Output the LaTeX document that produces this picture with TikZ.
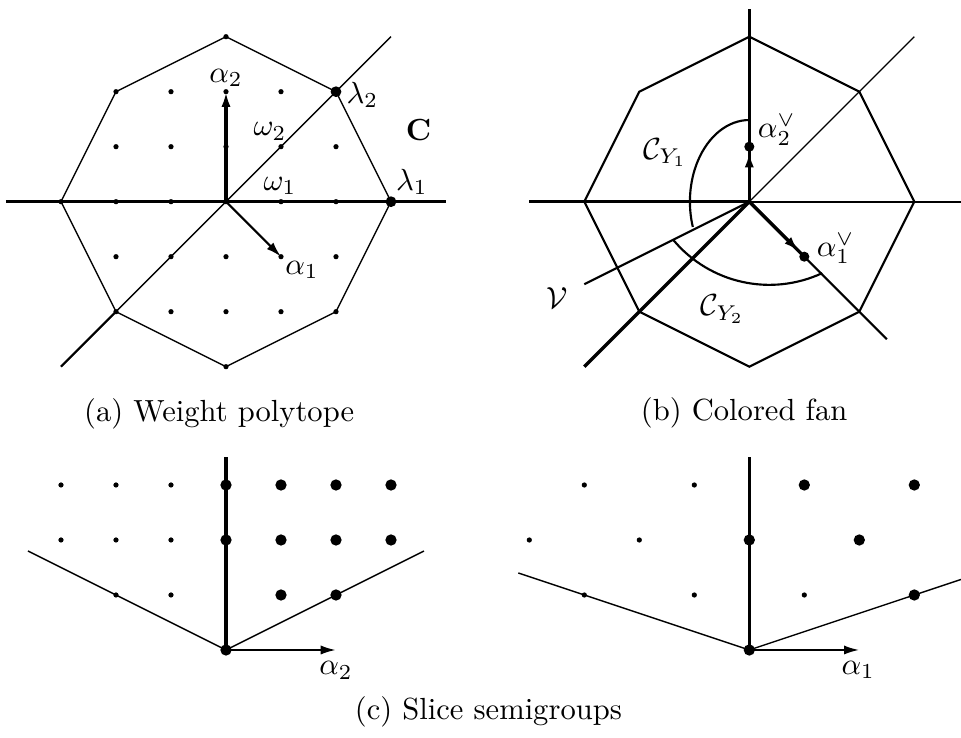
\documentclass[tikz,border=0pt]{standalone}
\usetikzlibrary{arrows.meta}
\begin{document}
\begin{tikzpicture}[x=0.6325cm,y=0.6325cm,
  thinline/.style={line width=0.45pt},
  medline/.style={line width=0.7pt},
  thickline/.style={line width=1.05pt},
  vec/.style={-{Latex[length=5pt,width=3pt]}}]
\useasboundingbox (0,0) rectangle (17.473,13.418);

\begin{scope}[shift={(4.109,9.751)}]
\coordinate (aO) at (0,0);
\draw[thinline] (3,0) -- (2,2) -- (0,3) -- (-2,2) -- (-3,0) -- (-2,-2) -- (0,-3) -- (2,-2) -- cycle;
\draw[thickline] (-4,0) -- (4,0);
\draw[thinline] (-3,-3) -- (3,3);
\draw[medline] (-3,-3) -- (-2,-2);
\foreach \x in {-2,...,2}
  \foreach \y in {-2,-1,1,2}
    \fill (\x,\y) circle (0.03cm);
\foreach \x in {-3,...,2}
  \fill (\x,0) circle (0.03cm);
\fill (0,3) circle (0.03cm);
\fill (0,-3) circle (0.03cm);
\coordinate (lamone) at (3,0);
\coordinate (lamtwo) at (2,2);
\fill (lamone) circle (0.062cm);
\fill (lamtwo) circle (0.062cm);
\draw[thickline,vec] (aO) -- (0,2);
\draw[medline,vec] (aO) -- (1,-1);
\node (alphatwo) at (0,2.25) {$\alpha_2$};
\node (alphaone) at (1.38,-1.24) {$\alpha_1$};
\node (lamtwolab) at (2.48,1.94) {$\lambda_2$};
\node (lamonelab) at (3.38,0.36) {$\lambda_1$};
\node (omtwo) at (0.8,1.28) {$\omega_2$};
\node (omone) at (0.98,0.285) {$\omega_1$};
\node (cham) at (3.5,1.3) {$\mathbf{C}$};
\end{scope}

\begin{scope}[shift={(13.624,9.751)}]
\coordinate (bO) at (0,0);
\draw[medline] (3,0) -- (2,2) -- (0,3) -- (-2,2) -- (-3,0) -- (-2,-2) -- (0,-3) -- (2,-2) -- cycle;
\draw[thickline] (bO) -- (0,3.5);
\draw[thickline] (-4,0) -- (bO);
\draw[medline] (bO) -- (3.85,0);
\draw[thinline] (bO) -- (3,3);
\draw[medline] (bO) -- (2.5,-2.5);
\draw[thickline] (bO) -- (-3,-3);
\draw[medline] (bO) -- (-3,-1.5);
\coordinate (corttwo) at (0,1);
\coordinate (cortone) at (1,-1);
\draw[thickline] (bO) -- (corttwo);
\draw[thickline] (bO) -- (cortone);
\draw[thickline,vec] (bO) -- (0,0.9);
\draw[thickline,vec] (bO) -- (0.9,-0.9);
\fill (corttwo) circle (0.058cm);
\fill (cortone) circle (0.058cm);
\draw[medline] (0,1.485) arc[start angle=90,end angle=198,x radius=1.08,y radius=1.485];
\draw[medline] (0.364,0.764) ++(220:2.276) arc[start angle=220,end angle=295,radius=2.276];
\node (corttwolab) at (0.5,1.3) {$\alpha_2^\vee$};
\node (cortonelab) at (1.57,-0.85) {$\alpha_1^\vee$};
\node (yone) at (-1.53,0.89) {$\mathcal{C}_{Y_1}$};
\node (ytwo) at (-0.49,-1.95) {$\mathcal{C}_{Y_2}$};
\node (val) at (-3.49,-1.75) {$\mathcal{V}$};
\end{scope}

\begin{scope}[shift={(4.109,1.6)}]
\coordinate (cO) at (0,0);
\draw[thinline] (-3.6,1.8) -- (cO) -- (3.6,1.8);
\draw[thickline] (cO) -- (0,3.5);
\draw[medline,vec] (cO) -- (2,0);
\foreach \p in {(-3,3),(-2,3),(-1,3),(-3,2),(-2,2),(-1,2),(-2,1),(-1,1)}
  \fill \p circle (0.03cm);
\fill (0,1) circle (0.02cm);
\foreach \p in {(0,3),(1,3),(2,3),(3,3),(0,2),(1,2),(2,2),(3,2),(1,1),(2,1),(0,0)}
  \fill \p circle (0.065cm);
\node (cslab) at (2,-0.37) {$\alpha_2$};
\end{scope}

\begin{scope}[shift={(13.624,1.6)}]
\coordinate (dO) at (0,0);
\draw[thinline] (-4.2,1.4) -- (dO) -- (3.85,1.283);
\draw[thickline] (dO) -- (0,3.5);
\draw[medline,vec] (dO) -- (2,0);
\foreach \p in {(-3,3),(-1,3),(-4,2),(-2,2),(-3,1),(-1,1),(1,1)}
  \fill \p circle (0.03cm);
\foreach \p in {(1,3),(3,3),(0,2),(2,2),(3,1),(0,0)}
  \fill \p circle (0.065cm);
\node (dslab) at (1.98,-0.36) {$\alpha_1$};
\end{scope}

\node[anchor=base] (capa) at (3.985,5.751) {(a) Weight polytope};
\node[anchor=base] (capb) at (13.53,5.77) {(b) Colored fan};
\node[anchor=base] (capc) at (8.879,0.34) {(c) Slice semigroups};
\end{tikzpicture}
\end{document}
